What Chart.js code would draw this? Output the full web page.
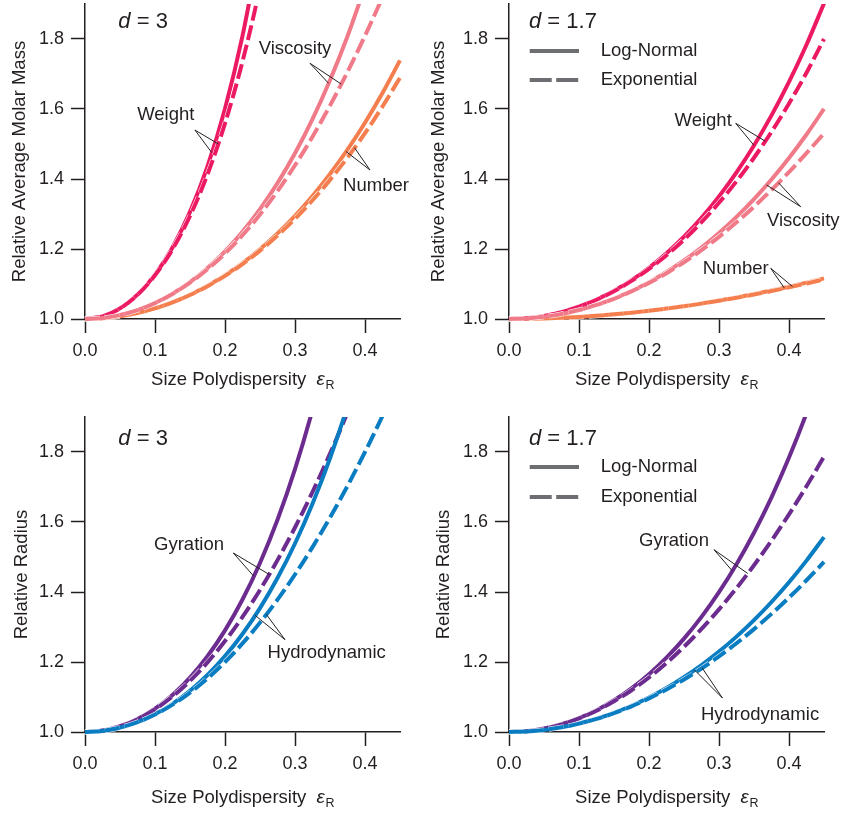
<!DOCTYPE html>
<html>
<head>
<meta charset="utf-8">
<script src="https://cdn.jsdelivr.net/npm/chart.js@4.4.1/dist/chart.umd.min.js"></script>
<style>
html,body{margin:0;padding:0;background:#fff;}
#wrap{position:relative;width:842px;height:814px;overflow:hidden;}
canvas{position:absolute;}
</style>
</head>
<body>
<div id="wrap">
<canvas id="c1" width="421" height="407" style="left:0;top:0"></canvas>
<canvas id="c2" width="421" height="407" style="left:421px;top:0"></canvas>
<canvas id="c3" width="421" height="407" style="left:0;top:407px"></canvas>
<canvas id="c4" width="421" height="407" style="left:421px;top:407px"></canvas>
</div>
<script>
// ---------- data ----------
const eps = [0,0.025,0.05,0.075,0.1,0.125,0.15,0.175,0.2,0.225,0.25,0.275,0.3,0.325,0.35,0.375,0.4,0.425,0.45];
const xTicks = [0,0.1,0.2,0.3,0.4];
const yTicks = [1.0,1.2,1.4,1.6,1.8];

// Relative average molar mass, d = 3
const weightLogNormal3   = [1,1.0075,1.0304,1.0696,1.1268,1.2045,1.3060,1.4362,1.6010,1.8087,2.0699];
const weightExp3         = [1,1.0075,1.0303,1.0690,1.1248,1.1992,1.2945,1.4133,1.5590,1.7357,1.9482,2.2023];
const viscosityLogNormal3= [1,1.0028,1.0113,1.0256,1.0458,1.0723,1.1053,1.1454,1.1930,1.2489,1.3137,1.3883,1.4737,1.5712,1.6822,1.8078,1.9501];
const viscosityExp3      = [1,1.0028,1.0113,1.0255,1.0455,1.0715,1.1037,1.1422,1.1874,1.2395,1.2987,1.3653,1.4392,1.5207,1.6097,1.7060,1.8093,1.9187];
const numberLogNormal3   = [1,1.0019,1.0075,1.0170,1.0303,1.0476,1.0690,1.0947,1.1249,1.1597,1.1995,1.2445,1.2950,1.3515,1.4144,1.4840,1.5609,1.6456,1.7388];
const numberExp3         = [1,1.0019,1.0075,1.0169,1.0302,1.0474,1.0685,1.0938,1.1232,1.1570,1.1953,1.2383,1.2862,1.3392,1.3975,1.4614,1.5312,1.6071,1.6895];

// Relative average molar mass, d = 1.7
const weightLogNormal17   = [1,1.0022,1.0087,1.0197,1.0353,1.0555,1.0806,1.1109,1.1465,1.1878,1.2353,1.2893,1.3503,1.4190,1.4959,1.5818,1.6774,1.7837,1.9015];
const weightExp17         = [1,1.0022,1.0087,1.0197,1.0351,1.0550,1.0796,1.1089,1.1431,1.1823,1.2268,1.2766,1.3320,1.3934,1.4608,1.5347,1.6155,1.7037,1.8000];
const viscosityLogNormal17= [1,1.0016,1.0064,1.0144,1.0257,1.0403,1.0584,1.0800,1.1052,1.1342,1.1672,1.2043,1.2458,1.2918,1.3427,1.3987,1.4601,1.5272,1.6003];
const viscosityExp17      = [1,1.0016,1.0064,1.0144,1.0256,1.0401,1.0578,1.0789,1.1033,1.1310,1.1622,1.1968,1.2348,1.2762,1.3209,1.3689,1.4199,1.4738,1.5304];
const numberLogNormal17   = [1,1.0004,1.0015,1.0033,1.0059,1.0093,1.0133,1.0181,1.0236,1.0298,1.0367,1.0443,1.0526,1.0616,1.0712,1.0814,1.0923,1.1038,1.1160];
const numberExp17         = [1,1.0004,1.0015,1.0033,1.0059,1.0093,1.0133,1.0180,1.0235,1.0296,1.0364,1.0439,1.0520,1.0607,1.0700,1.0799,1.0905,1.1015,1.1130];

// Relative radius, d = 3
const gyrationLogNormal3 = [1,1.0041,1.0164,1.0371,1.0668,1.1060,1.1556,1.2166,1.2904,1.3785,1.4830,1.6063,1.7510,1.9208,2.1194];
const gyrationExp3       = [1,1.0041,1.0163,1.0366,1.0650,1.1015,1.1462,1.1990,1.2598,1.3288,1.4059,1.4911,1.5844,1.6857,1.7952,1.9128,2.0384];
const hydroLogNormal3    = [1,1.0031,1.0126,1.0284,1.0510,1.0806,1.1177,1.1628,1.2167,1.2801,1.3541,1.4399,1.5386,1.6522,1.7821,1.9307,2.1004];
const hydroExp3          = [1,1.0031,1.0125,1.0281,1.0500,1.0781,1.1125,1.1531,1.2000,1.2531,1.3125,1.3781,1.4500,1.5281,1.6125,1.7031,1.8000,1.9031,2.0125];

// Relative radius, d = 1.7
const gyrationLogNormal17 = [1,1.0024,1.0098,1.0221,1.0396,1.0623,1.0907,1.1249,1.1653,1.2124,1.2667,1.3289,1.3995,1.4794,1.5694,1.6706,1.7840,1.9109,2.0527];
const gyrationExp17       = [1,1.0024,1.0098,1.0219,1.0390,1.0609,1.0877,1.1193,1.1558,1.1972,1.2434,1.2944,1.3503,1.4110,1.4765,1.5468,1.6220,1.7020,1.7869];
const hydroLogNormal17    = [1,1.0015,1.0060,1.0136,1.0242,1.0379,1.0549,1.0751,1.0987,1.1258,1.1566,1.1912,1.2298,1.2725,1.3196,1.3714,1.4279,1.4896,1.5567];
const hydroExp17          = [1,1.0015,1.0060,1.0135,1.0240,1.0375,1.0540,1.0735,1.0960,1.1215,1.1500,1.1815,1.2160,1.2535,1.2940,1.3375,1.3840,1.4335,1.4860];

// ---------- styles ----------
const FONT = '"Liberation Sans", Arial, Helvetica, sans-serif';
const TXT = '#231f20';
const AXC = '#231f20';
const COL = {
  weight: '#ec1a63', viscosity: '#f07a88', number: '#f47e4e',
  gyration: '#6c2b8f', hydro: '#0a7dc2', legend: '#6d6e71'
};
const DASH = [15, 5];
const LW = 4;
Chart.defaults.font.family = FONT;

function pts(arr){ return arr.map((v,i)=>({x:eps[i], y:v})); }
function yAt(arr, xv){
  for (let i=0;i<arr.length-1;i++){
    if (xv>=eps[i] && xv<=eps[i+1]){
      const t=(xv-eps[i])/(eps[i+1]-eps[i]);
      return arr[i]+t*(arr[i+1]-arr[i]);
    }
  }
  return arr[arr.length-1];
}

const panels = [
  { id:'c1', area:{left:85,top:4,right:400,bottom:319},
    yTitle:'Relative Average Molar Mass', yTitleOff:60, xTitleOff:66,
    dText:'3', dAt:[0.0476,1.8306], legend:null,
    series:[
      {arr:viscosityExp3, c:COL.viscosity, dash:true},
      {arr:viscosityLogNormal3, c:COL.viscosity},
      {arr:weightExp3, c:COL.weight, dash:true},
      {arr:weightLogNormal3, c:COL.weight},
      {arr:numberExp3, c:COL.number, dash:true},
      {arr:numberLogNormal3, c:COL.number}
    ],
    notes:[
      {t:'Weight', at:[0.1154,1.583], from:[0.157,1.540], to:[[weightLogNormal3,0.181],[weightExp3,0.19]]},
      {t:'Viscosity', at:[0.300,1.771], from:[0.3214,1.7306], to:[[viscosityLogNormal3,0.348],[viscosityExp3,0.366]]},
      {t:'Number', at:[0.4157,1.380], from:[0.4071,1.4257], to:[[numberLogNormal3,0.373],[numberExp3,0.385]]}
    ]},
  { id:'c2', area:{left:88,top:4,right:403,bottom:319},
    yTitle:'Relative Average Molar Mass', yTitleOff:65, xTitleOff:66,
    dText:'1.7', dAt:[0.0286,1.8306], legend:{x0:0.0296,x1:0.1,tx:0.131,y1:1.7657,y2:1.6829},
    series:[
      {arr:viscosityExp17, c:COL.viscosity, dash:true},
      {arr:viscosityLogNormal17, c:COL.viscosity},
      {arr:weightExp17, c:COL.weight, dash:true},
      {arr:weightLogNormal17, c:COL.weight},
      {arr:numberExp17, c:COL.number, dash:true},
      {arr:numberLogNormal17, c:COL.number}
    ],
    notes:[
      {t:'Weight', at:[0.2774,1.5657], from:[0.3239,1.5591], to:[[weightLogNormal17,0.35],[weightExp17,0.366]]},
      {t:'Viscosity', at:[0.4203,1.280], from:[0.4167,1.3209], to:[[viscosityLogNormal17,0.368],[viscosityExp17,0.385]]},
      {t:'Number', at:[0.3239,1.1429], from:[0.3739,1.1449], to:[[numberLogNormal17,0.393],[numberExp17,0.405]]}
    ]},
  { id:'c3', area:{left:85,top:10,right:400,bottom:325},
    yTitle:'Relative Radius', yTitleOff:58.5, xTitleOff:71,
    dText:'3', dAt:[0.0476,1.8209], legend:null,
    series:[
      {arr:hydroExp3, c:COL.hydro, dash:true},
      {arr:hydroLogNormal3, c:COL.hydro},
      {arr:gyrationExp3, c:COL.gyration, dash:true},
      {arr:gyrationLogNormal3, c:COL.gyration}
    ],
    notes:[
      {t:'Gyration', at:[0.1486,1.5351], from:[0.2119,1.5114], to:[[gyrationLogNormal3,0.241],[gyrationExp3,0.263]]},
      {t:'Hydrodynamic', at:[0.3453,1.2266], from:[0.2857,1.2637], to:[[hydroLogNormal3,0.243],[hydroExp3,0.259]]}
    ]},
  { id:'c4', area:{left:88,top:10,right:403,bottom:325},
    yTitle:'Relative Radius', yTitleOff:60, xTitleOff:71,
    dText:'1.7', dAt:[0.0286,1.8209], legend:{x0:0.0296,x1:0.1,tx:0.131,y1:1.757,y2:1.6714},
    series:[
      {arr:hydroExp17, c:COL.hydro, dash:true},
      {arr:hydroLogNormal17, c:COL.hydro},
      {arr:gyrationExp17, c:COL.gyration, dash:true},
      {arr:gyrationLogNormal17, c:COL.gyration}
    ],
    notes:[
      {t:'Gyration', at:[0.2357,1.5466], from:[0.2929,1.5209], to:[[gyrationLogNormal17,0.319],[gyrationExp17,0.341]]},
      {t:'Hydrodynamic', at:[0.3586,1.0494], from:[0.3049,1.0971], to:[[hydroLogNormal17,0.265],[hydroExp17,0.276]]}
    ]}
];

function makeExtras(p){
  return {
    id:'extras_'+p.id,
    afterDraw(chart){
      const {ctx, chartArea:ca} = chart;
      const sx = chart.scales.x, sy = chart.scales.y;
      const X = v=>sx.getPixelForValue(v), Y = v=>sy.getPixelForValue(v);
      ctx.save();
      ctx.fillStyle = TXT;
      // y title
      ctx.save();
      ctx.translate(ca.left - p.yTitleOff, (ca.top+ca.bottom)/2);
      ctx.rotate(-Math.PI/2);
      ctx.font = '18.5px '+FONT;
      ctx.textAlign='center'; ctx.textBaseline='alphabetic';
      ctx.fillText(p.yTitle,0,0);
      ctx.restore();
      // x title with subscript
      const base = ca.bottom + p.xTitleOff;
      const f1 = '18.5px '+FONT, f2 = 'italic 19px '+FONT, f3 = '12.5px '+FONT;
      const s1 = 'Size Polydispersity  ', s2='\u03b5', s3='R';
      ctx.font=f1; const w1=ctx.measureText(s1).width;
      ctx.font=f2; const w2=ctx.measureText(s2).width;
      ctx.font=f3; const w3=ctx.measureText(s3).width;
      let xx = (ca.left+ca.right)/2 - (w1+w2+w3)/2;
      ctx.textAlign='left'; ctx.textBaseline='alphabetic';
      ctx.font=f1; ctx.fillText(s1,xx,base); xx+=w1;
      ctx.font=f2; ctx.fillText(s2,xx,base); xx+=w2+0.5;
      ctx.font=f3; ctx.fillText(s3,xx,base+3.5);
      // d label
      const dx = X(p.dAt[0]), dy = Y(p.dAt[1]);
      ctx.font='italic 22px '+FONT; ctx.fillText('d',dx,dy);
      const wd = ctx.measureText('d').width;
      ctx.font='22px '+FONT; ctx.fillText(' = '+p.dText,dx+wd,dy);
      // legend
      if (p.legend){
        const L=p.legend;
        ctx.strokeStyle=COL.legend; ctx.lineWidth=LW; ctx.lineCap='butt';
        ctx.setLineDash([]);
        ctx.beginPath(); ctx.moveTo(X(L.x0),Y(L.y1)); ctx.lineTo(X(L.x1),Y(L.y1)); ctx.stroke();
        ctx.setLineDash([22,4.5]);
        ctx.beginPath(); ctx.moveTo(X(L.x0),Y(L.y2)); ctx.lineTo(X(L.x1),Y(L.y2)); ctx.stroke();
        ctx.setLineDash([]);
        ctx.font='18.5px '+FONT; ctx.textBaseline='middle'; ctx.textAlign='left';
        ctx.fillText('Log-Normal',X(L.tx),Y(L.y1));
        ctx.fillText('Exponential',X(L.tx),Y(L.y2));
      }
      // annotations
      ctx.font='18.5px '+FONT; ctx.textAlign='center'; ctx.textBaseline='middle';
      ctx.strokeStyle=TXT; ctx.lineWidth=1; ctx.setLineDash([]);
      p.notes.forEach(n=>{
        ctx.fillText(n.t, X(n.at[0]), Y(n.at[1]));
        n.to.forEach(([arr,xv])=>{
          ctx.beginPath();
          ctx.moveTo(X(n.from[0]),Y(n.from[1]));
          ctx.lineTo(X(xv),Y(yAt(arr,xv)));
          ctx.stroke();
        });
      });
      ctx.restore();
    }
  };
}

function lineDs(s, color, width){
  return {
    data: pts(s.arr),
    borderColor: color,
    backgroundColor: color,
    borderWidth: width,
    borderDash: s.dash ? DASH : [],
    borderCapStyle:'butt',
    pointRadius:0,
    fill:false,
    cubicInterpolationMode:'monotone',
    clip:{left:3, top:0, right:3, bottom:3}
  };
}

panels.forEach(p=>{
  const cv = document.getElementById(p.id);
  const W = cv.width, H = cv.height, a = p.area;
  const axisCommon = {
    type:'linear',
    grid:{drawOnChartArea:false, drawTicks:true, tickLength:14, tickWidth:1.5, tickColor:AXC},
    border:{display:true, color:AXC, width:1.5},
  };
  const datasets = [];
  p.series.forEach(s=>{
    datasets.push(lineDs(s, s.c, LW));
    if (s.dash) datasets.push(lineDs(s, '#ffffff', LW+1)); // thin white edge under dashes
  });
  new Chart(cv, {
    type:'line',
    data:{ datasets },
    options:{
      responsive:false, animation:false, events:[],
      layout:{padding:{left:0, top:a.top, right:W-a.right, bottom:0}},
      plugins:{legend:{display:false}, tooltip:{enabled:false}},
      scales:{
        x:Object.assign({}, axisCommon, {
          min:0, max:0.45,
          afterBuildTicks:s=>{ s.ticks = xTicks.map(v=>({value:v})); },
          afterFit:s=>{ s.height = H - a.bottom; s.paddingLeft = 0; s.paddingRight = 0; },
          ticks:{callback:v=>Number(v).toFixed(1), font:{size:18}, color:TXT, padding:7, maxRotation:0, autoSkip:false}
        }),
        y:Object.assign({}, axisCommon, {
          min:1, max:1.9,
          afterBuildTicks:s=>{ s.ticks = yTicks.map(v=>({value:v})); },
          afterFit:s=>{ s.width = a.left; s.paddingTop = 0; s.paddingBottom = 0; },
          ticks:{callback:v=>Number(v).toFixed(1), font:{size:18}, color:TXT, padding:7, autoSkip:false}
        })
      }
    },
    plugins:[makeExtras(p)]
  });
});
</script>
</body>
</html>
